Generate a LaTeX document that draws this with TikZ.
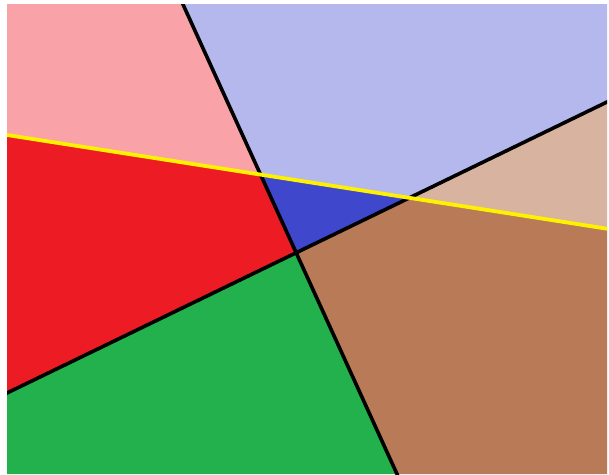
\documentclass[tikz,border=0pt]{standalone}
\usetikzlibrary{calc}
\definecolor{cpink}{RGB}{249,163,168}
\definecolor{clav}{RGB}{180,184,236}
\definecolor{ctan}{RGB}{216,180,160}
\definecolor{cred}{RGB}{237,28,36}
\definecolor{cblue}{RGB}{63,72,204}
\definecolor{cgreen}{RGB}{34,177,76}
\definecolor{cbrown}{RGB}{185,122,87}
\definecolor{cyel}{RGB}{255,242,0}
\tikzset{blackline/.style={black,line width=3.6pt},yelline/.style={cyel,line width=3.8pt}}
\begin{document}
\begin{tikzpicture}[x=1pt,y=-1pt]
\useasboundingbox (0,0) rectangle (609,474);
\fill[white] (0,0) rectangle (609,474);
\coordinate (TL) at (7,4);
\coordinate (TR) at (607,4);
\coordinate (BL) at (7,474);
\coordinate (BR) at (607,474);
\coordinate (At) at (182.8,4);
\coordinate (Ab) at (397,474);
\coordinate (Bl) at (7,393);
\coordinate (Br) at (607,102);
\coordinate (Yl) at (7,135);
\coordinate (Yr) at (607,228.7);
\coordinate (AB) at (296.2,252.4);
\coordinate (AY) at (260.6,174.6);
\coordinate (BY) at (409.5,197.8);
\fill[cpink] (TL) -- (At) -- (AY) -- (Yl) -- cycle;
\fill[clav] (At) -- (TR) -- (Br) -- (BY) -- (AY) -- cycle;
\fill[ctan] (BY) -- (Br) -- (Yr) -- cycle;
\fill[cblue] (AY) -- (BY) -- (AB) -- cycle;
\fill[cred] (Yl) -- (AY) -- (AB) -- (Bl) -- cycle;
\fill[cgreen] (Bl) -- (AB) -- (Ab) -- (BL) -- cycle;
\fill[cbrown] (AB) -- (BY) -- (Yr) -- (BR) -- (Ab) -- cycle;
\begin{scope}
\clip (TL) rectangle (BR);
\draw[blackline] ($(At)!-0.05!(Ab)$) -- ($(Ab)!-0.05!(At)$);
\draw[blackline] ($(Bl)!-0.05!(Br)$) -- ($(Br)!-0.05!(Bl)$);
\draw[yelline] ($(Yl)!-0.05!(Yr)$) -- ($(Yr)!-0.05!(Yl)$);
\end{scope}
\end{tikzpicture}
\end{document}
